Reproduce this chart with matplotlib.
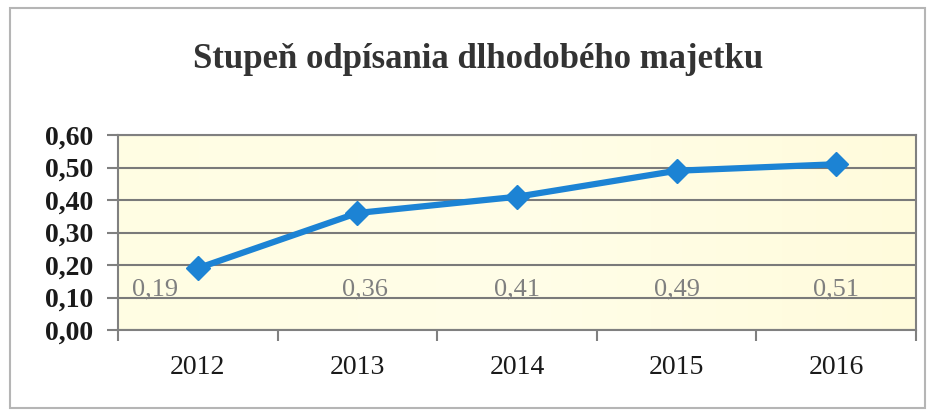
import numpy as np
import matplotlib
matplotlib.use("Agg")
import matplotlib.pyplot as plt
from matplotlib.patches import Rectangle

years = ["2012", "2013", "2014", "2015", "2016"]
values = [0.19, 0.36, 0.41, 0.49, 0.51]
y_ticks = [0.0, 0.1, 0.2, 0.3, 0.4, 0.5, 0.6]
title = "Stupeň odpísania dlhodobého majetku"

plt.rcParams['font.family'] = ['Liberation Serif', 'DejaVu Serif']

fig = plt.figure(figsize=(9.33, 4.16), dpi=100)
fig.patch.set_facecolor("white")

# outer chart frame
fig.patches.append(Rectangle((10 / 933, 8 / 416), 915 / 933, 400 / 416,
                             transform=fig.transFigure, fill=False,
                             edgecolor="#b5b5b5", linewidth=1.5))

ax = fig.add_axes([118 / 933, 86 / 416, 798 / 933, 195 / 416])

# light yellow gradient background
grad = np.linspace(0, 1, 256).reshape(1, -1)
ax.imshow(grad, extent=[-0.5, 4.5, 0, 0.6], aspect="auto", zorder=0,
          cmap=matplotlib.colors.LinearSegmentedColormap.from_list(
              "bg", ["#fffde3", "#fffee8", "#fffbdc"]))

x = np.arange(len(years))
ax.plot(x, values, color="#1c83d4", linewidth=4.5, marker="D",
        markersize=12, zorder=3)

for i, v in enumerate(values):
    dx = -0.27 if i == 0 else 0.05 * (i == 1)
    ax.text(i + dx, 0.125, f"{v:.2f}".replace(".", ","), ha="center",
            va="center", fontsize=19, color="#7f7f7f", zorder=4)

ax.set_xlim(-0.5, 4.5)
ax.set_ylim(0, 0.6)
ax.set_yticks(y_ticks)
ax.set_yticklabels([f"{t:.2f}".replace(".", ",") for t in y_ticks],
                   fontsize=20, fontweight="bold", color="#1a1a1a")
ax.set_xticks(x)
ax.set_xticklabels(years, fontsize=20, color="#1a1a1a")
ax.set_xticks(np.arange(-0.5, 5, 1), minor=True)
ax.tick_params(axis="x", which="major", length=0, pad=18)
ax.tick_params(axis="x", which="minor", length=8, width=1.5, color="#808080")
ax.tick_params(axis="y", length=8, width=1.5, color="#808080", pad=10)

ax.grid(axis="y", color="#7a7a7a", linewidth=1.5, zorder=1)
ax.set_axisbelow(True)
for s in ax.spines.values():
    s.set_color("#808080")
    s.set_linewidth(1.5)

fig.text(478 / 933, 1 - 60 / 416, title, ha="center", va="center",
         fontsize=25, fontweight="bold", color="#333333")

fig.savefig("out.png", dpi=100)
